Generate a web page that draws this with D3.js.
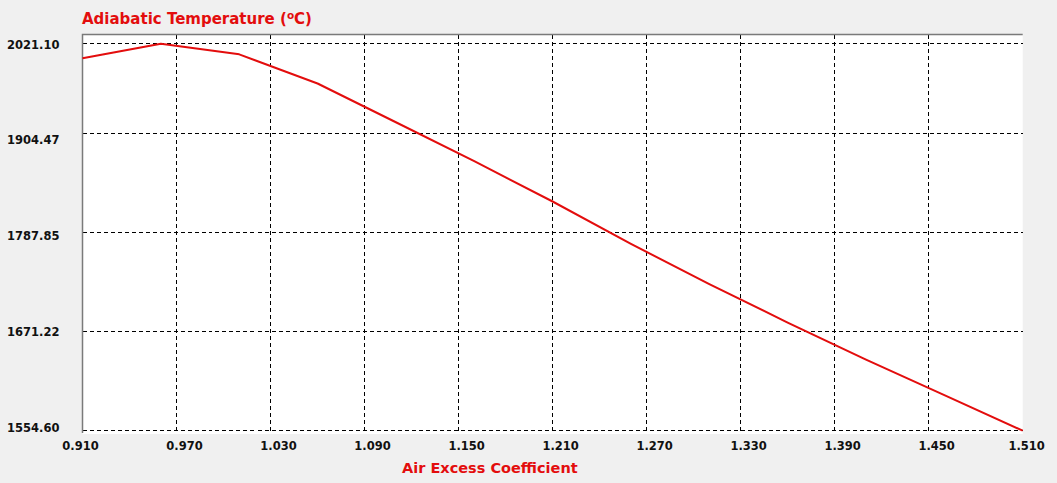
<!DOCTYPE html>
<html>
<head>
<meta charset="utf-8">
<script src="https://cdn.jsdelivr.net/npm/d3@7"></script>
<style>
    body { margin: 0; background: #f0f0f0; }
    text { font-family: "DejaVu Sans", Verdana, sans-serif; font-weight: bold; }
</style>
</head>
<body>
<div id="chart"></div>
<script>
// air excess coefficient (x) vs adiabatic temperature
var airExcess = [0.91, 0.96, 1.01, 1.06, 1.11, 1.16, 1.21, 1.26, 1.31, 1.36, 1.41, 1.46, 1.51];
var temperature = [2003.5, 2021.10, 2008.3, 1973.1, 1926.4, 1879.5, 1830.9, 1779.8, 1731.3, 1685.0, 1640.3, 1597.4, 1554.60];

var xTicks = [0.91, 0.97, 1.03, 1.09, 1.15, 1.21, 1.27, 1.33, 1.39, 1.45, 1.51];
var yTicks = [1554.60, 1671.22, 1787.85, 1904.47, 2021.10];

var titleText = "Adiabatic Temperature (";
var titleUnit = "C)";
var xTitle = "Air Excess Coefficient";

function draw() {
    var width = 1057;
    var height = 483;
    var red = "#e30d0d";

    var plot = { left: 82.5, right: 1022.7, top: 34.5, bottom: 434 };

    var svg = d3.select("#chart")
        .append("svg")
        .attr("width", width)
        .attr("height", height);

    svg.append("rect")
        .attr("width", width)
        .attr("height", height)
        .attr("fill", "#f0f0f0");

    var x = d3.scaleLinear()
        .domain([d3.min(airExcess), d3.max(airExcess)])
        .range([plot.left, plot.right]);

    var y = d3.scaleLinear()
        .domain([d3.min(temperature), d3.max(temperature)])
        .range([430.7, 43.7]);

    // the grid in the original is spread over the full plot height
    var yGrid = d3.scaleLinear()
        .domain(y.domain())
        .range([430.7, plot.top]);

    // and the labels sit a little above their values
    var yLabel = d3.scaleLinear()
        .domain(y.domain())
        .range([427, 44]);

    svg.append("rect")
        .attr("x", plot.left)
        .attr("y", plot.top)
        .attr("width", plot.right - plot.left)
        .attr("height", plot.bottom - plot.top)
        .attr("fill", "#ffffff");

    var grid = svg.append("g")
        .attr("stroke", "#000")
        .attr("stroke-width", 1)
        .attr("stroke-dasharray", "4,3")
        .attr("shape-rendering", "crispEdges");

    grid.selectAll(".hgrid")
        .data(yTicks)
        .enter()
        .append("line")
        .attr("class", "hgrid")
        .attr("x1", plot.left)
        .attr("x2", plot.right)
        .attr("y1", function(d, i) { return i == yTicks.length - 1 ? y(d) : yGrid(d); })
        .attr("y2", function(d, i) { return i == yTicks.length - 1 ? y(d) : yGrid(d); });

    grid.selectAll(".vgrid")
        .data(xTicks.slice(1, -1))
        .enter()
        .append("line")
        .attr("class", "vgrid")
        .attr("x1", function(d) { return x(d); })
        .attr("x2", function(d) { return x(d); })
        .attr("y1", plot.top)
        .attr("y2", plot.bottom - 0.5);

    // gray frame on left and top
    svg.append("path")
        .attr("d", "M" + plot.left + "," + (plot.bottom - 1) + "V" + plot.top + "H" + plot.right)
        .attr("fill", "none")
        .attr("stroke", "#7a7a7a")
        .attr("stroke-width", 1.5);

    var line = d3.line()
        .x(function(d, i) { return x(airExcess[i]); })
        .y(function(d) { return y(d); });

    svg.append("path")
        .datum(temperature)
        .attr("d", line)
        .attr("fill", "none")
        .attr("stroke", red)
        .attr("stroke-width", 2)
        .attr("stroke-linejoin", "round");

    // y tick labels
    svg.selectAll(".ylabel")
        .data(yTicks)
        .enter()
        .append("text")
        .attr("class", "ylabel")
        .attr("x", 7)
        .attr("y", function(d) { return yLabel(d) + 4.5; })
        .attr("font-size", 11.5)
        .attr("fill", "#111")
        .text(function(d) { return d3.format(".2f")(d); });

    // x tick labels
    svg.selectAll(".xlabel")
        .data(xTicks)
        .enter()
        .append("text")
        .attr("class", "xlabel")
        .attr("x", function(d, i) { return x(d) + (i == 0 ? -2 : (i == xTicks.length - 1 ? 4 : 8)); })
        .attr("y", 449.5)
        .attr("text-anchor", "middle")
        .attr("font-size", 11.5)
        .attr("fill", "#111")
        .text(function(d) { return d3.format(".3f")(d); });

    var title = svg.append("text")
        .attr("x", 82)
        .attr("y", 24)
        .attr("font-size", 15)
        .attr("fill", red)
        .text(titleText);
    title.append("tspan")
        .attr("font-size", 10.5)
        .attr("dy", -5)
        .text("o");
    title.append("tspan")
        .attr("dy", 5)
        .text(titleUnit);

    svg.append("text")
        .attr("x", 402)
        .attr("y", 472.5)
        .attr("font-size", 14.5)
        .attr("fill", red)
        .text(xTitle);
}

draw();
</script>
</body>
</html>
